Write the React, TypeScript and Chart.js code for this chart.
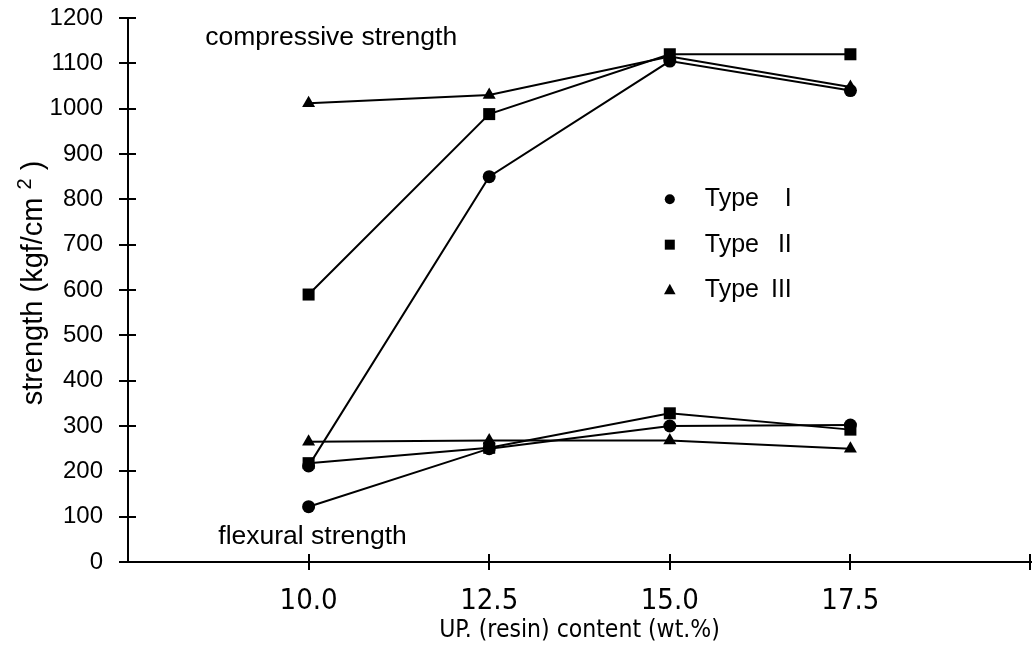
import React, { useEffect, useRef } from "react";
import { Chart, registerables } from "chart.js";

Chart.register(...registerables);

// ---- data ----
const resinContent = [10.0, 12.5, 15.0, 17.5];
const compressiveTypeI = [212, 850, 1105, 1040];
const compressiveTypeII = [590, 988, 1120, 1120];
const compressiveTypeIII = [1012, 1030, 1115, 1048];
const flexuralTypeI = [122, 250, 300, 302];
const flexuralTypeII = [218, 252, 328, 292];
const flexuralTypeIII = [265, 268, 268, 250];

const typeNames = ["Type", "Type", "Type"];
const typeNumerals = ["I", "II", "III"];
const typeStyles = ["circle", "rect", "triangle"];
const xTickLabels = ["10.0", "12.5", "15.0", "17.5"];

const SANS = "'Liberation Sans', Arial, Helvetica, sans-serif";
const NARROW = "'Liberation Sans Narrow', 'Arial Narrow', 'DejaVu Sans Condensed', sans-serif";

const pointRadius: Record<string, number> = { circle: 6.5, rect: 8.5, triangle: 7.5 };

function series(values: number[]) {
  return resinContent.map((x, i) => ({ x, y: values[i] }));
}

function drawMarker(ctx: CanvasRenderingContext2D, style: string, x: number, y: number, s: number) {
  ctx.beginPath();
  if (style === "circle") {
    ctx.arc(x, y, s, 0, Math.PI * 2);
  } else if (style === "rect") {
    ctx.rect(x - s, y - s, 2 * s, 2 * s);
  } else {
    const h = s * 1.9;
    ctx.moveTo(x, y - h * 0.6);
    ctx.lineTo(x + s * 1.05, y + h * 0.4);
    ctx.lineTo(x - s * 1.05, y + h * 0.4);
    ctx.closePath();
  }
  ctx.fill();
}

const decorPlugin = {
  id: "decor",
  afterDraw(chart: any) {
    const ctx: CanvasRenderingContext2D = chart.ctx;
    const xs = chart.scales.x;
    const ys = chart.scales.y;
    const area = chart.chartArea;
    ctx.save();
    ctx.strokeStyle = "#000";
    ctx.fillStyle = "#000";
    ctx.lineWidth = 2;
    // crossing ticks
    xs.ticks.forEach((t: any) => {
      if (t.value <= xs.min) return;
      const px = Math.min(Math.round(xs.getPixelForValue(t.value)), area.right - 1);
      ctx.beginPath();
      ctx.moveTo(px, area.bottom - 8);
      ctx.lineTo(px, area.bottom + 8);
      ctx.stroke();
    });
    ys.ticks.forEach((t: any) => {
      const py = Math.round(ys.getPixelForValue(t.value));
      ctx.beginPath();
      ctx.moveTo(area.left - 9, py);
      ctx.lineTo(area.left + 8, py);
      ctx.stroke();
    });

    // annotations
    ctx.font = `26.5px ${SANS}`;
    ctx.textAlign = "left";
    ctx.textBaseline = "middle";
    ctx.fillText("compressive strength", xs.getPixelForValue(8.57), ys.getPixelForValue(1156));
    ctx.fillText("flexural strength", xs.getPixelForValue(8.75), ys.getPixelForValue(55));

    // legend (inside plot)
    const legendX = xs.getPixelForValue(15.0);
    const legendRows = [800, 700, 600];
    ctx.font = `25px ${SANS}`;
    typeStyles.forEach((style, i) => {
      const py = ys.getPixelForValue(legendRows[i]);
      drawMarker(ctx, style, legendX, py, style === "triangle" ? 5.5 : 5);
      ctx.textAlign = "left";
      ctx.fillText(typeNames[i], legendX + 35, py);
      ctx.textAlign = "right";
      ctx.fillText(typeNumerals[i], legendX + 122, py);
    });

    // y-axis title with superscript
    const cy = 283;
    ctx.translate(42, cy);
    ctx.rotate(-Math.PI / 2);
    ctx.textBaseline = "alphabetic";
    ctx.textAlign = "left";
    const main = "strength (kgf/cm";
    const sup = "2";
    const tail = " )";
    ctx.font = `29px ${SANS}`;
    const w1 = ctx.measureText(main).width;
    const w3 = ctx.measureText(tail).width;
    ctx.font = `20px ${SANS}`;
    const w2 = ctx.measureText(sup).width;
    const gap = 8;
    const total = w1 + gap + w2 + w3;
    let x0 = -total / 2;
    ctx.font = `29px ${SANS}`;
    ctx.fillText(main, x0, 0);
    x0 += w1 + gap;
    ctx.font = `20px ${SANS}`;
    ctx.fillText(sup, x0, -11);
    x0 += w2;
    ctx.font = `29px ${SANS}`;
    ctx.fillText(tail, x0, 0);
    ctx.restore();
  },
};

export default function App() {
  const ref = useRef<HTMLCanvasElement | null>(null);

  useEffect(() => {
    if (!ref.current) return;
    document.body.style.overflow = "hidden";
    const mk = (label: string, values: number[], style: string) => ({
      label,
      data: series(values),
      borderColor: "#000",
      backgroundColor: "#000",
      borderWidth: 2,
      pointStyle: style as any,
      pointRadius: pointRadius[style],
      pointBorderWidth: 0,
      pointBackgroundColor: "#000",
      showLine: true,
      tension: 0,
      clip: 12,
    });
    const chart = new Chart(ref.current, {
      type: "line",
      data: {
        datasets: [
          mk("Type I compressive", compressiveTypeI, typeStyles[0]),
          mk("Type II compressive", compressiveTypeII, typeStyles[1]),
          mk("Type III compressive", compressiveTypeIII, typeStyles[2]),
          mk("Type I flexural", flexuralTypeI, typeStyles[0]),
          mk("Type II flexural", flexuralTypeII, typeStyles[1]),
          mk("Type III flexural", flexuralTypeIII, typeStyles[2]),
        ],
      },
      options: {
        animation: false,
        responsive: true,
        maintainAspectRatio: false,
        layout: { autoPadding: false, padding: { top: 18, right: 3, left: 0, bottom: 0 } },
        plugins: {
          legend: { display: false },
          tooltip: { enabled: false },
        },
        scales: {
          x: {
            type: "linear",
            min: 7.5,
            max: 20,
            afterFit: (s: any) => {
              s.height = 83;
              s.paddingLeft = 0;
              s.paddingRight = 0;
            },
            afterBuildTicks: (s: any) => {
              s.ticks = [7.5, 10, 12.5, 15, 17.5, 20].map((v) => ({ value: v }));
            },
            ticks: {
              color: "#000",
              font: { family: NARROW, size: 29 },
              padding: 22,
              maxRotation: 0,
              autoSkip: false,
              callback: (v: any) => {
                const i = resinContent.indexOf(Number(v));
                return i >= 0 ? xTickLabels[i] : "";
              },
            },
            grid: { display: false, drawTicks: false },
            border: { display: true, color: "#000", width: 2 },
            title: {
              display: true,
              text: "UP. (resin) content (wt.%)",
              color: "#000",
              font: { family: NARROW, size: 24.5 },
              padding: { top: 0, bottom: 0 },
            },
          },
          y: {
            type: "linear",
            min: 0,
            max: 1200,
            afterFit: (s: any) => {
              s.width = 128;
              s.paddingTop = 0;
              s.paddingBottom = 0;
            },
            ticks: {
              stepSize: 100,
              color: "#000",
              font: { family: SANS, size: 24 },
              padding: 25,
              callback: (v: any) => String(v),
            },
            grid: { display: false, drawTicks: false },
            border: { display: true, color: "#000", width: 2 },
          },
        },
      },
      plugins: [decorPlugin],
    });
    return () => chart.destroy();
  }, []);

  return (
    <div style={{ position: "absolute", left: 0, top: 0, width: 1034, height: 645, background: "#fff" }}>
      <canvas ref={ref} style={{ display: "block" }} />
    </div>
  );
}
